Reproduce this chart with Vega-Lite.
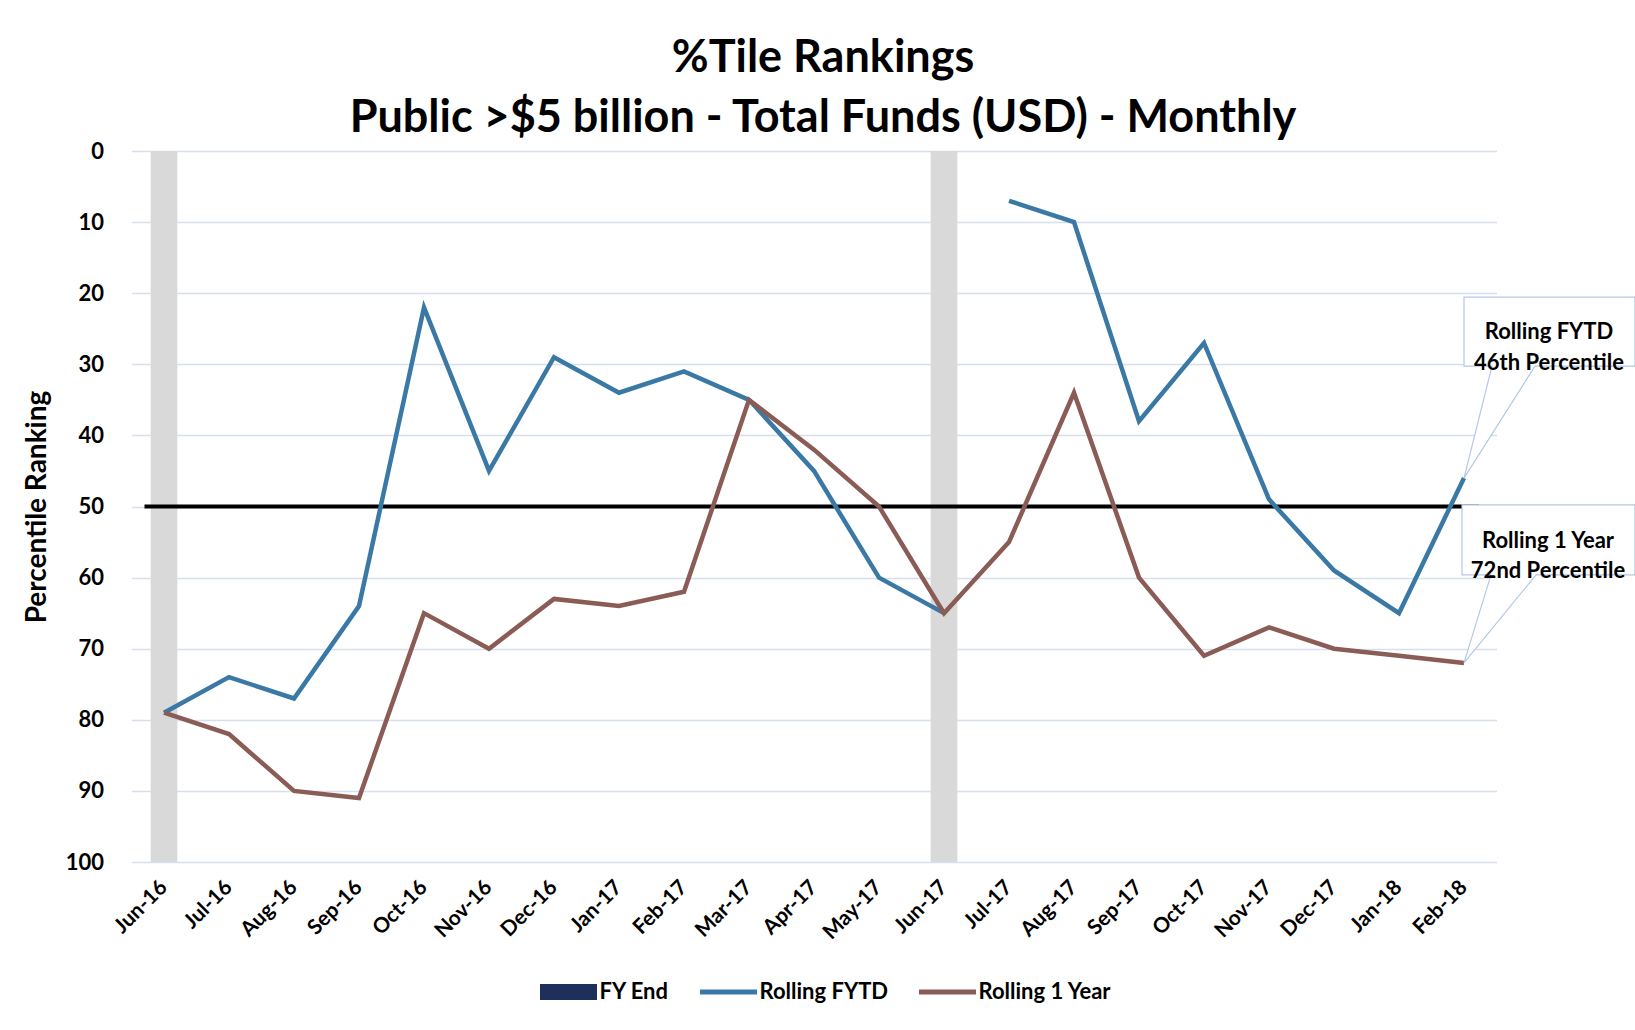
{
  "$schema": "https://vega.github.io/schema/vega-lite/v6.json",
  "autosize": {"type": "none"},
  "width": 1365,
  "height": 711,
  "padding": {"left": 131.5, "top": 151, "right": 138.5, "bottom": 168},
  "background": "white",
  "title": {
    "text": ["%Tile Rankings", "Public >$5 billion - Total Funds (USD) - Monthly"],
    "font": "Lato",
    "fontSize": 45,
    "fontWeight": "bold",
    "color": "#000000",
    "lineHeight": 60,
    "anchor": "middle",
    "dx": 9,
    "offset": -1
  },
  "config": {
    "view": {"stroke": null},
    "font": "Lato"
  },
  "datasets": {
    "series": [
      {"month": "Jun-16", "series": "Rolling FYTD", "seg": "A", "value": 79},
      {"month": "Jul-16", "series": "Rolling FYTD", "seg": "A", "value": 74},
      {"month": "Aug-16", "series": "Rolling FYTD", "seg": "A", "value": 77},
      {"month": "Sep-16", "series": "Rolling FYTD", "seg": "A", "value": 64},
      {"month": "Oct-16", "series": "Rolling FYTD", "seg": "A", "value": 22},
      {"month": "Nov-16", "series": "Rolling FYTD", "seg": "A", "value": 45},
      {"month": "Dec-16", "series": "Rolling FYTD", "seg": "A", "value": 29},
      {"month": "Jan-17", "series": "Rolling FYTD", "seg": "A", "value": 34},
      {"month": "Feb-17", "series": "Rolling FYTD", "seg": "A", "value": 31},
      {"month": "Mar-17", "series": "Rolling FYTD", "seg": "A", "value": 35},
      {"month": "Apr-17", "series": "Rolling FYTD", "seg": "A", "value": 45},
      {"month": "May-17", "series": "Rolling FYTD", "seg": "A", "value": 60},
      {"month": "Jun-17", "series": "Rolling FYTD", "seg": "A", "value": 65},
      {"month": "Jul-17", "series": "Rolling FYTD", "seg": "B", "value": 7},
      {"month": "Aug-17", "series": "Rolling FYTD", "seg": "B", "value": 10},
      {"month": "Sep-17", "series": "Rolling FYTD", "seg": "B", "value": 38},
      {"month": "Oct-17", "series": "Rolling FYTD", "seg": "B", "value": 27},
      {"month": "Nov-17", "series": "Rolling FYTD", "seg": "B", "value": 49},
      {"month": "Dec-17", "series": "Rolling FYTD", "seg": "B", "value": 59},
      {"month": "Jan-18", "series": "Rolling FYTD", "seg": "B", "value": 65},
      {"month": "Feb-18", "series": "Rolling FYTD", "seg": "B", "value": 46},
      {"month": "Jun-16", "series": "Rolling 1 Year", "seg": "C", "value": 79},
      {"month": "Jul-16", "series": "Rolling 1 Year", "seg": "C", "value": 82},
      {"month": "Aug-16", "series": "Rolling 1 Year", "seg": "C", "value": 90},
      {"month": "Sep-16", "series": "Rolling 1 Year", "seg": "C", "value": 91},
      {"month": "Oct-16", "series": "Rolling 1 Year", "seg": "C", "value": 65},
      {"month": "Nov-16", "series": "Rolling 1 Year", "seg": "C", "value": 70},
      {"month": "Dec-16", "series": "Rolling 1 Year", "seg": "C", "value": 63},
      {"month": "Jan-17", "series": "Rolling 1 Year", "seg": "C", "value": 64},
      {"month": "Feb-17", "series": "Rolling 1 Year", "seg": "C", "value": 62},
      {"month": "Mar-17", "series": "Rolling 1 Year", "seg": "C", "value": 35},
      {"month": "Apr-17", "series": "Rolling 1 Year", "seg": "C", "value": 42},
      {"month": "May-17", "series": "Rolling 1 Year", "seg": "C", "value": 50},
      {"month": "Jun-17", "series": "Rolling 1 Year", "seg": "C", "value": 65},
      {"month": "Jul-17", "series": "Rolling 1 Year", "seg": "C", "value": 55},
      {"month": "Aug-17", "series": "Rolling 1 Year", "seg": "C", "value": 34},
      {"month": "Sep-17", "series": "Rolling 1 Year", "seg": "C", "value": 60},
      {"month": "Oct-17", "series": "Rolling 1 Year", "seg": "C", "value": 71},
      {"month": "Nov-17", "series": "Rolling 1 Year", "seg": "C", "value": 67},
      {"month": "Dec-17", "series": "Rolling 1 Year", "seg": "C", "value": 70},
      {"month": "Jan-18", "series": "Rolling 1 Year", "seg": "C", "value": 71},
      {"month": "Feb-18", "series": "Rolling 1 Year", "seg": "C", "value": 72}
    ],
    "fyend": [
      {"month": "Jun-16", "top": 0, "bottom": 100},
      {"month": "Jun-17", "top": 0, "bottom": 100}
    ],
    "median": [{"value": 50, "from": "Jun-16", "to": "Feb-18"}],
    "callouts": [
      {"month": "Feb-18", "value": 46, "label": "Rolling FYTD\n46th Percentile", "kind": "fytd"},
      {"month": "Feb-18", "value": 72, "label": "Rolling 1 Year\n72nd Percentile", "kind": "oneyear"}
    ]
  },
  "layer": [
    {
      "data": {"name": "fyend"},
      "mark": {"type": "bar", "color": "#D9D9D9", "width": {"band": 0.41}},
      "encoding": {
        "x": {
          "field": "month",
          "type": "ordinal",
          "sort": null,
          "scale": {
            "type": "band",
            "paddingInner": 0,
            "paddingOuter": 0,
            "domain": ["Jun-16", "Jul-16", "Aug-16", "Sep-16", "Oct-16", "Nov-16", "Dec-16", "Jan-17", "Feb-17", "Mar-17", "Apr-17", "May-17", "Jun-17", "Jul-17", "Aug-17", "Sep-17", "Oct-17", "Nov-17", "Dec-17", "Jan-18", "Feb-18"]
          },
          "axis": {
            "title": null,
            "labelAngle": -45,
            "labelAlign": "right",
            "labelBaseline": "middle",
            "labelFont": "Lato",
            "labelFontSize": 21,
            "labelFontWeight": "bold",
            "labelColor": "#000000",
            "labelPadding": 22,
            "ticks": false,
            "domain": false,
            "grid": false
          }
        },
        "y": {
          "field": "top",
          "type": "quantitative",
          "scale": {"domain": [0, 100], "reverse": true, "nice": false},
          "axis": {
            "title": "Percentile Ranking",
            "titleFont": "Lato",
            "titleFontSize": 28,
            "titleFontWeight": "bold",
            "titleColor": "#000000",
            "titleX": -94,
            "titleBaseline": "middle",
            "values": [0, 10, 20, 30, 40, 50, 60, 70, 80, 90, 100],
            "labelFont": "Lato",
            "labelFontSize": 22,
            "labelFontWeight": "bold",
            "labelColor": "#000000",
            "labelPadding": 28,
            "ticks": false,
            "domain": false,
            "grid": true,
            "gridColor": "#D6DFEE",
            "gridWidth": 1.5
          }
        },
        "y2": {"field": "bottom"}
      }
    },
    {
      "data": {"name": "median"},
      "mark": {"type": "rule", "color": "#000000", "strokeWidth": 4, "x2Offset": 15},
      "encoding": {
        "x": {"field": "from", "type": "ordinal", "bandPosition": 0.2},
        "x2": {"field": "to"},
        "y": {"field": "value", "type": "quantitative"}
      }
    },
    {
      "data": {"name": "series"},
      "mark": {"type": "line", "strokeWidth": 4.5, "strokeJoin": "miter", "strokeCap": "butt"},
      "encoding": {
        "x": {"field": "month", "type": "ordinal", "sort": null},
        "y": {"field": "value", "type": "quantitative"},
        "detail": {"field": "seg"},
        "color": {
          "field": "series",
          "type": "nominal",
          "scale": {
            "domain": ["FY End", "Rolling FYTD", "Rolling 1 Year"],
            "range": ["#1F2F5C", "#3A78A6", "#8A5C55"]
          },
          "legend": {
            "title": null,
            "orient": "none",
            "legendX": 408,
            "legendY": 812,
            "direction": "horizontal",
            "symbolType": "M-1,-0.1H1V0.1H-1Z",
            "symbolSize": 3250,
            "symbolStrokeWidth": 0,
            "columnPadding": 30,
            "labelFont": "Lato",
            "labelFontSize": 22,
            "labelFontWeight": "bold",
            "labelColor": "#000000",
            "labelOffset": 2,
            "encode": {
              "symbols": {
                "update": {
                  "shape": {"signal": "datum.value === 'FY End' ? 'M-1,-0.28H1V0.28H-1Z' : 'M-1,-0.085H1V0.085H-1Z'"},
                  "fill": {"signal": "scale('color', datum.value)"},
                  "fillOpacity": {"value": 1},
                  "strokeWidth": {"value": 0}
                }
              }
            }
          }
        }
      }
    },
    {
      "data": {"name": "callouts"},
      "mark": {"type": "point", "filled": true, "fill": "white", "fillOpacity": 1, "stroke": "#B4C7E7", "strokeWidth": 1.2, "size": 4, "opacity": 1},
      "encoding": {
        "x": {"field": "month", "type": "ordinal"},
        "y": {"field": "value", "type": "quantitative"},
        "shape": {
          "field": "kind",
          "type": "nominal",
          "scale": {
            "domain": ["fytd", "oneyear"],
            "range": [
              "M0,-181H171V-112H71L0,0L28,-112H0Z",
              "M-2,-158H171V-88H72L0,0L27,-88H-2Z"
            ]
          },
          "legend": null
        }
      }
    },
    {
      "data": {"name": "callouts"},
      "transform": [{"filter": "datum.kind === 'fytd'"}],
      "mark": {"type": "text", "font": "Lato", "fontSize": 22, "fontWeight": "bold", "color": "#000000", "align": "center", "baseline": "middle", "lineBreak": "\n", "lineHeight": 31, "dx": 85, "dy": -146},
      "encoding": {
        "x": {"field": "month", "type": "ordinal"},
        "y": {"field": "value", "type": "quantitative"},
        "text": {"field": "label"}
      }
    },
    {
      "data": {"name": "callouts"},
      "transform": [{"filter": "datum.kind === 'oneyear'"}],
      "mark": {"type": "text", "font": "Lato", "fontSize": 22, "fontWeight": "bold", "color": "#000000", "align": "center", "baseline": "middle", "lineBreak": "\n", "lineHeight": 30, "dx": 84, "dy": -122},
      "encoding": {
        "x": {"field": "month", "type": "ordinal"},
        "y": {"field": "value", "type": "quantitative"},
        "text": {"field": "label"}
      }
    }
  ]
}
